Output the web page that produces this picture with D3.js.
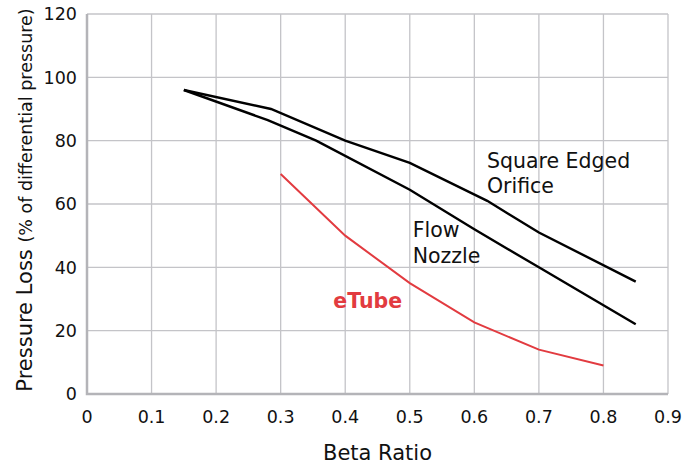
<!DOCTYPE html>
<html>
<head>
<meta charset="utf-8">
<script src="https://cdn.jsdelivr.net/npm/d3@7"></script>
<style>
  body { margin: 0; background: #fff; }
  svg { font-family: "DejaVu Sans", Verdana, sans-serif; }
</style>
</head>
<body>
<div id="chart"></div>
<script>
// data
const xTicks = [0, 0.1, 0.2, 0.3, 0.4, 0.5, 0.6, 0.7, 0.8, 0.9];
const yTicks = [0, 20, 40, 60, 80, 100, 120];

const orificeBeta = [0.15, 0.285, 0.4, 0.5, 0.62, 0.7, 0.85];
const orificeLoss = [96, 90, 80, 73, 61, 51, 35.5];

const nozzleBeta = [0.15, 0.28, 0.355, 0.5, 0.6, 0.7, 0.85];
const nozzleLoss = [96, 86.5, 80, 64.5, 52, 40, 22];

const etubeBeta = [0.3, 0.4, 0.5, 0.6, 0.7, 0.8];
const etubeLoss = [69.5, 50, 35, 22.6, 14, 9];

const margin = { top: 14, right: 32, bottom: 70, left: 87 };
const width = 700 - margin.left - margin.right;
const height = 464 - margin.top - margin.bottom;

const svg = d3.select("#chart")
    .append("svg")
    .attr("width", 700)
    .attr("height", 464)
    .append("g")
    .attr("transform", `translate(${margin.left},${margin.top})`);

const x = d3.scaleLinear().domain([0, 0.9]).range([0, width]);
const y = d3.scaleLinear().domain([0, 120]).range([height, 0]);

// grid
svg.selectAll(".vgrid")
    .data(xTicks)
    .enter()
    .append("line")
    .attr("x1", d => x(d)).attr("x2", d => x(d))
    .attr("y1", 0).attr("y2", height)
    .attr("stroke", "#c4c4c8")
    .attr("stroke-width", 1.3);

svg.selectAll(".hgrid")
    .data(yTicks)
    .enter()
    .append("line")
    .attr("x1", 0).attr("x2", width)
    .attr("y1", d => y(d)).attr("y2", d => y(d))
    .attr("stroke", "#c4c4c8")
    .attr("stroke-width", 1.3);

// left and bottom border
svg.append("path")
    .attr("d", `M0,0V${height}H${width}`)
    .attr("fill", "none")
    .attr("stroke", "#b4b4b8")
    .attr("stroke-width", 2.5);

// tick labels
svg.selectAll(".xlab")
    .data(xTicks)
    .enter()
    .append("text")
    .attr("x", d => x(d))
    .attr("y", height + 29)
    .attr("text-anchor", "middle")
    .style("font-size", "17.5px")
    .attr("fill", "#111")
    .text(d => d);

svg.selectAll(".ylab")
    .data(yTicks)
    .enter()
    .append("text")
    .attr("x", -10)
    .attr("y", d => y(d))
    .attr("dy", "0.36em")
    .attr("text-anchor", "end")
    .style("font-size", "17.5px")
    .attr("fill", "#111")
    .text(d => d);

// axis titles
svg.append("text")
    .attr("x", width / 2)
    .attr("y", height + 66)
    .attr("text-anchor", "middle")
    .style("font-size", "21px")
    .attr("fill", "#111")
    .text("Beta Ratio");

const yTitle = svg.append("text")
    .attr("transform", `translate(${-55},${height / 2 - 4}) rotate(-90)`)
    .attr("text-anchor", "middle")
    .attr("fill", "#111");
yTitle.append("tspan").style("font-size", "21px").text("Pressure Loss ");
yTitle.append("tspan").style("font-size", "17.5px").text("(% of differential pressure)");

// lines
const line = d3.line().x(d => x(d[0])).y(d => y(d[1]));

const series = [
    { beta: orificeBeta, loss: orificeLoss, color: "#000", w: 2.4 },
    { beta: nozzleBeta, loss: nozzleLoss, color: "#000", w: 2.4 },
    { beta: etubeBeta, loss: etubeLoss, color: "#e23b40", w: 2 }
];

svg.selectAll(".series")
    .data(series)
    .enter()
    .append("path")
    .attr("fill", "none")
    .attr("stroke", d => d.color)
    .attr("stroke-width", d => d.w)
    .attr("d", d => line(d.beta.map((b, i) => [b, d.loss[i]])));

// labels
function label(lines, bx, by, opts) {
    const t = svg.append("text")
        .attr("x", x(bx))
        .attr("y", y(by))
        .style("font-size", "20.5px")
        .attr("fill", opts.color || "#111")
        .style("font-weight", opts.bold ? "bold" : "normal");
    lines.forEach((s, i) => {
        t.append("tspan").attr("x", x(bx)).attr("dy", i === 0 ? 0 : opts.lh || 25).text(s);
    });
}

label(["Square Edged", "Orifice"], 0.6195, 71.5, { lh: 25 });
label(["Flow", "Nozzle"], 0.5045, 49.5, { lh: 26 });
label(["eTube"], 0.3815, 27.2, { color: "#e23b40", bold: true });
</script>
</body>
</html>
